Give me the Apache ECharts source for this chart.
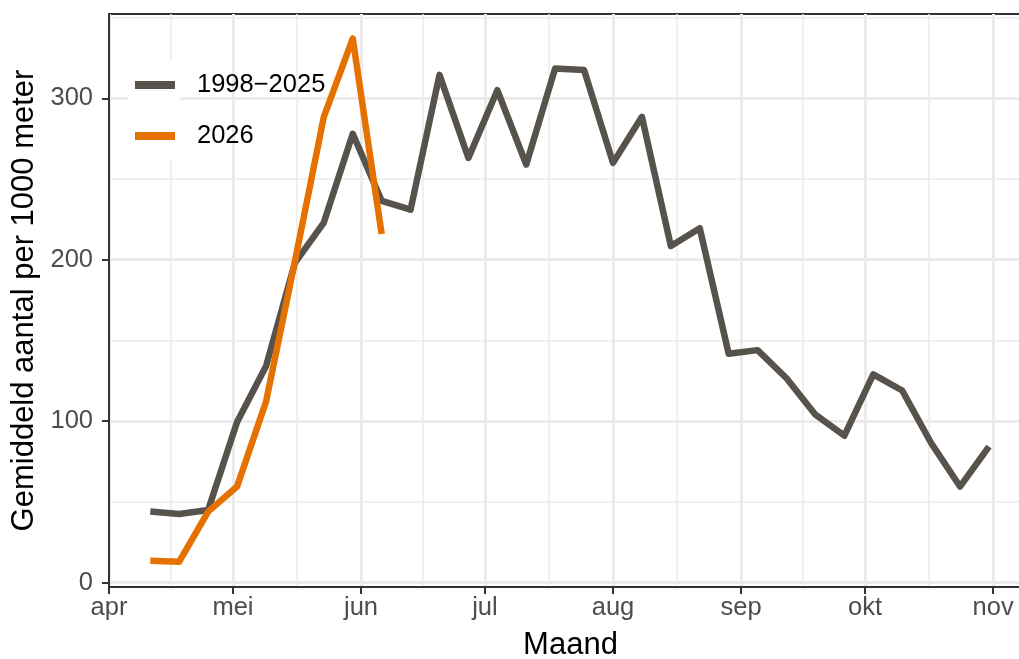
<!DOCTYPE html>
<html><head><meta charset="utf-8">
<script src="https://cdn.jsdelivr.net/npm/echarts@6/dist/echarts.min.js"></script>
<style>html,body{margin:0;padding:0;background:#fff}#c{width:1019px;height:659px}</style>
</head><body><div id="c"></div>
<script>
// ---- data ----
const dates = ['2026-04-11','2026-04-18','2026-04-25','2026-05-02','2026-05-09','2026-05-16','2026-05-23','2026-05-30',
  '2026-06-06','2026-06-13','2026-06-20','2026-06-27','2026-07-04','2026-07-11','2026-07-18','2026-07-25',
  '2026-08-01','2026-08-08','2026-08-15','2026-08-22','2026-08-29','2026-09-05','2026-09-12','2026-09-19',
  '2026-09-26','2026-10-03','2026-10-10','2026-10-17','2026-10-24','2026-10-31'];
const histValues = [44, 42.5, 45, 99.5, 134, 198, 223, 278, 236.5, 231, 314.5, 263, 305, 259, 318.5, 317.5,
  260, 288.5, 208.5, 219.5, 141.8, 144, 126.6, 104, 91, 129, 119, 86.5, 59.5, 84.3];
const curValues = [13.6, 13, 44, 59.5, 112, 199, 288.5, 337, 216];
const seriesNames = ['1998\u22122025', '2026'];
const monthTicks = ['2026-04-01','2026-05-01','2026-06-01','2026-07-01','2026-08-01','2026-09-01','2026-10-01','2026-11-01'];
const monthNames = ['jan','feb','mrt','apr','mei','jun','jul','aug','sep','okt','nov','dec'];
const yTicks = [0, 100, 200, 300];
const yMinorTicks = [50, 150, 250, 350];
const xMin = '2026-04-01';
const xMax = '2026-11-08';
const yMin = -2.7, yMax = 352.2;

function toTs(s){ const p = s.split('-').map(Number); return Date.UTC(p[0], p[1]-1, p[2]); }
const majorX = monthTicks.map(toTs);
const minorX = majorX.slice(1).map((t, i) => (t + majorX[i]) / 2);

const FONT = 'Liberation Sans, Arial, sans-serif';
const GRID = '#EBEBEB';
const DARK = '#333333';

const chart = echarts.init(document.getElementById('c'), null, {renderer: 'canvas'});
chart.setOption({
  animation: false,
  backgroundColor: '#fff',
  textStyle: {fontFamily: FONT},
  grid: {left: 109, right: -3, top: 14, bottom: 72, outerBoundsMode: 'none', containLabel: false,
    show: true, borderColor: DARK, borderWidth: 2, backgroundColor: 'transparent'},
  graphic: [{type: 'rect', left: 128, top: 60, z: 1, shape: {width: 52, height: 100}, style: {fill: '#fff'}}],
  legend: {
    orient: 'vertical', left: 135, top: 72, padding: 0, itemWidth: 40, itemHeight: 8, itemGap: 25, icon: 'rect',
    data: seriesNames,
    textStyle: {fontSize: 25.5, color: '#000', fontFamily: FONT, lineHeight: 26, padding: [0, 0, 0, 17]}
  },
  xAxis: [{
    type: 'value', min: toTs(xMin), max: toTs(xMax),
    name: 'Maand', nameLocation: 'middle', nameGap: 43,
    nameTextStyle: {fontSize: 31, color: '#000', fontFamily: FONT, padding: [0, 0, 0, 10]},
    axisLine: {show: true, onZero: false, lineStyle: {color: DARK, width: 2}},
    axisTick: {show: true, length: 7, lineStyle: {color: DARK, width: 2}, customValues: majorX},
    axisLabel: {show: true, customValues: majorX, margin: 8, fontSize: 25.5, color: '#4D4D4D', fontFamily: FONT,
      formatter: v => monthNames[new Date(v).getUTCMonth()], hideOverlap: false},
    splitLine: {show: true, lineStyle: {color: GRID, width: 3}}
  }, {
    type: 'value', min: toTs(xMin), max: toTs(xMax), position: 'bottom', gridIndex: 0,
    axisLine: {show: false}, axisLabel: {show: false},
    axisTick: {show: false, customValues: minorX},
    splitLine: {show: true, lineStyle: {color: GRID, width: 1.5}}
  }],
  yAxis: [{
    type: 'value', min: yMin, max: yMax,
    name: 'Gemiddeld aantal per 1000 meter', nameLocation: 'middle', nameGap: 66,
    nameTextStyle: {fontSize: 31, color: '#000', fontFamily: FONT},
    axisLine: {show: true, onZero: false, lineStyle: {color: DARK, width: 2}},
    axisTick: {show: true, length: 7, lineStyle: {color: DARK, width: 2}, customValues: yTicks},
    axisLabel: {show: true, customValues: yTicks, margin: 16, fontSize: 25.5, color: '#4D4D4D', fontFamily: FONT},
    splitLine: {show: true, lineStyle: {color: GRID, width: 3}}
  }, {
    type: 'value', min: yMin, max: yMax, position: 'left', gridIndex: 0,
    axisLine: {show: false}, axisLabel: {show: false},
    axisTick: {show: false, customValues: yMinorTicks},
    splitLine: {show: true, lineStyle: {color: GRID, width: 1.5}}
  }],
  series: [{
    name: seriesNames[0], type: 'line', xAxisIndex: 0, yAxisIndex: 0,
    data: dates.map((d, i) => [toTs(d), histValues[i]]),
    showSymbol: false, symbol: 'none', z: 3,
    itemStyle: {color: '#57524C'},
    lineStyle: {color: '#57524C', width: 6.5, join: 'round', cap: 'butt'}
  }, {
    name: seriesNames[1], type: 'line', xAxisIndex: 0, yAxisIndex: 0,
    data: curValues.map((v, i) => [toTs(dates[i]), v]),
    showSymbol: false, symbol: 'none', z: 4,
    itemStyle: {color: '#E57200'},
    lineStyle: {color: '#E57200', width: 6.5, join: 'round', cap: 'butt'}
  }]
});
</script>
</body></html>
